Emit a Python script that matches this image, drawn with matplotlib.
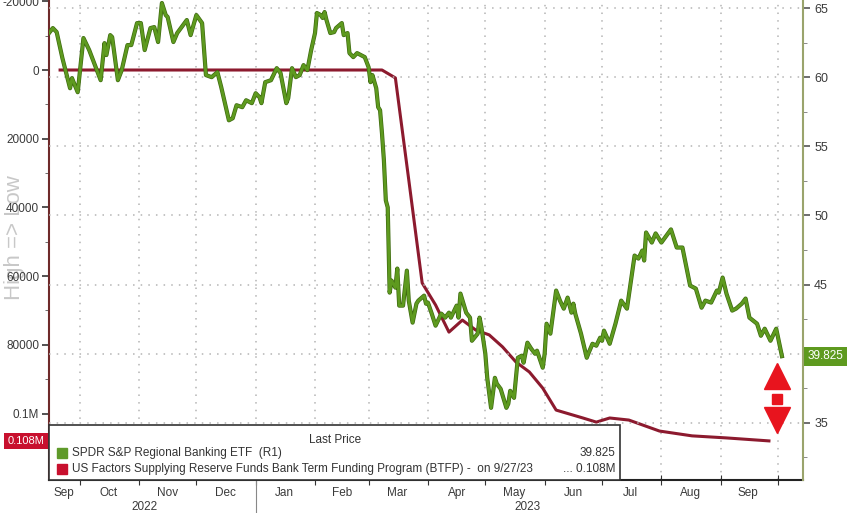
import numpy as np
import pandas as pd
import matplotlib
matplotlib.use('Agg')
import matplotlib.pyplot as plt
import matplotlib.dates as mdates
import matplotlib.ticker as mticker
import matplotlib.transforms as mtransforms
import matplotlib.patheffects as pe
from matplotlib.patches import Rectangle

plt.rcParams['font.family'] = ['Liberation Sans', 'DejaVu Sans']

# SPDR S&P Regional Banking ETF (KRE)
kre_dates = [
    '2022-09-15', '2022-09-17', '2022-09-19', '2022-09-22', '2022-09-26', '2022-09-27', '2022-09-30',
    '2022-10-03', '2022-10-06', '2022-10-10', '2022-10-12', '2022-10-14', '2022-10-15', '2022-10-17',
    '2022-10-18', '2022-10-21', '2022-10-23', '2022-10-26', '2022-10-28', '2022-10-31', '2022-11-02',
    '2022-11-04', '2022-11-07', '2022-11-09', '2022-11-11', '2022-11-13', '2022-11-15', '2022-11-16',
    '2022-11-19', '2022-11-21', '2022-11-26', '2022-11-28', '2022-12-01', '2022-12-04', '2022-12-06',
    '2022-12-09', '2022-12-12', '2022-12-14', '2022-12-18', '2022-12-20', '2022-12-22', '2022-12-25',
    '2022-12-27', '2022-12-30', '2023-01-01', '2023-01-03', '2023-01-04', '2023-01-06', '2023-01-09',
    '2023-01-12', '2023-01-14', '2023-01-17', '2023-01-18', '2023-01-20', '2023-01-22', '2023-01-24',
    '2023-01-26', '2023-01-28', '2023-01-30', '2023-02-01', '2023-02-02', '2023-02-04', '2023-02-05',
    '2023-02-06', '2023-02-07', '2023-02-09', '2023-02-11', '2023-02-12', '2023-02-15', '2023-02-16',
    '2023-02-18', '2023-02-19', '2023-02-21', '2023-02-23', '2023-02-27', '2023-03-01', '2023-03-02',
    '2023-03-03', '2023-03-05', '2023-03-06', '2023-03-07', '2023-03-08', '2023-03-09', '2023-03-10',
    '2023-03-11', '2023-03-12', '2023-03-13', '2023-03-15', '2023-03-16', '2023-03-17', '2023-03-19',
    '2023-03-21', '2023-03-22', '2023-03-24', '2023-03-26', '2023-03-27', '2023-03-30', '2023-03-31',
    '2023-04-01', '2023-04-03', '2023-04-05', '2023-04-08', '2023-04-10', '2023-04-12', '2023-04-13',
    '2023-04-16', '2023-04-17', '2023-04-18', '2023-04-21', '2023-04-23', '2023-04-24', '2023-04-27',
    '2023-04-28', '2023-04-29', '2023-05-01', '2023-05-02', '2023-05-04', '2023-05-06', '2023-05-07',
    '2023-05-09', '2023-05-12', '2023-05-13', '2023-05-14', '2023-05-16', '2023-05-18', '2023-05-20',
    '2023-05-21', '2023-05-23', '2023-05-25', '2023-05-27', '2023-05-28', '2023-05-31', '2023-06-01',
    '2023-06-02', '2023-06-04', '2023-06-07', '2023-06-09', '2023-06-11', '2023-06-13', '2023-06-15',
    '2023-06-16', '2023-06-17', '2023-06-20', '2023-06-23', '2023-06-24', '2023-06-26', '2023-06-28',
    '2023-06-30', '2023-07-01', '2023-07-02', '2023-07-05', '2023-07-08', '2023-07-11', '2023-07-14',
    '2023-07-18', '2023-07-20', '2023-07-22', '2023-07-23', '2023-07-24', '2023-07-27', '2023-07-29',
    '2023-08-01', '2023-08-06', '2023-08-09', '2023-08-12', '2023-08-16', '2023-08-19', '2023-08-22',
    '2023-08-24', '2023-08-27', '2023-08-30', '2023-08-31', '2023-09-02', '2023-09-04', '2023-09-07',
    '2023-09-09', '2023-09-12', '2023-09-14', '2023-09-16', '2023-09-20', '2023-09-22', '2023-09-24',
    '2023-09-27', '2023-09-30', '2023-10-03',
]
kre_price = [
    63.19, 63.55, 63.26, 61.38, 59.20, 59.93, 58.91,
    62.83, 61.96, 60.51, 59.78, 62.46, 61.60, 63.04,
    62.90, 59.78, 60.51, 62.32, 62.32, 63.91, 63.91,
    61.96, 63.55, 63.62, 62.54, 65.36, 64.49, 64.35,
    62.54, 63.19, 64.13, 63.04, 64.49, 63.91, 60.15,
    60.00, 60.36, 59.28, 56.88, 57.03, 57.97, 57.83,
    58.33, 58.12, 58.84, 58.55, 58.12, 59.64, 59.78,
    60.65, 60.29, 58.12, 58.48, 60.65, 60.00, 60.15,
    60.87, 60.51, 61.96, 63.19, 64.64, 64.49, 64.28,
    64.71, 64.13, 63.19, 63.26, 63.55, 63.91, 63.04,
    63.19, 61.74, 61.45, 61.74, 61.45, 60.72, 59.64,
    60.15, 59.20, 57.83, 57.61, 55.94, 53.99, 51.09,
    50.58, 44.42, 45.29, 44.78, 46.16, 43.48, 43.48,
    46.01, 43.84, 42.25, 43.62, 43.84, 44.20, 43.62,
    43.70, 42.90, 42.03, 42.90, 42.61, 42.97, 42.61,
    43.48, 42.61, 44.35, 42.97, 42.61, 40.94, 41.45,
    42.61, 41.88, 40.00, 38.26, 36.09, 38.26, 37.83,
    37.46, 36.09, 36.38, 37.32, 36.81, 39.71, 39.86,
    39.35, 40.80, 40.36, 40.00, 40.22, 38.99, 40.00,
    42.17, 41.45, 44.57, 43.84, 43.26, 44.06, 42.97,
    43.62, 42.90, 41.45, 39.71, 40.07, 40.72, 40.58,
    41.16, 40.94, 41.67, 40.72, 42.17, 43.84, 43.26,
    47.10, 46.88, 47.46, 46.74, 48.77, 48.04, 48.70,
    48.04, 48.99, 47.68, 47.68, 44.93, 44.71, 43.33,
    43.84, 43.70, 44.57, 44.42, 45.51, 44.35, 43.12,
    43.26, 43.62, 43.99, 42.61, 42.17, 41.30, 41.81,
    40.94, 41.81, 39.825,
]

# BTFP usage, USD millions (left axis, inverted)
btfp_dates = [
    '2022-09-20', '2023-03-08', '2023-03-15', '2023-03-22', '2023-03-29', '2023-04-05',
    '2023-04-12', '2023-04-19', '2023-04-26', '2023-05-03', '2023-05-10', '2023-05-17',
    '2023-05-24', '2023-05-31', '2023-06-07', '2023-06-21', '2023-06-28', '2023-07-05',
    '2023-07-15', '2023-07-22', '2023-07-31', '2023-08-17', '2023-09-04', '2023-09-27',
]
btfp_value = [
    0, 0, 2300, 32000, 62000, 68400,
    76300, 72800, 75700, 77100, 80600, 85000,
    87900, 92600, 99000, 101300, 102500, 101300,
    101900, 103300, 105100, 106500, 107100, 108000,
]

month_names = ['Sep', 'Oct', 'Nov', 'Dec', 'Jan', 'Feb', 'Mar', 'Apr', 'May', 'Jun', 'Jul', 'Aug', 'Sep']
month_pos = ['2022-09-23', '2022-10-16', '2022-11-16', '2022-12-16', '2023-01-16', '2023-02-15',
             '2023-03-16', '2023-04-16', '2023-05-16', '2023-06-16', '2023-07-16', '2023-08-16',
             '2023-09-15']
year_names = ['2022', '2023']
year_pos = ['2022-11-04', '2023-05-23']

kre_last = 39.825
btfp_last = 108000

green = '#5e9a1f'
maroon = '#8c1a2e'
tick_col = '#3a3a3a'
grid_col = '#b4b4b4'

fig = plt.figure(figsize=(8.48, 5.13), dpi=100)
ax = fig.add_axes([49 / 848, 1 - 480 / 513, 754 / 848, 480 / 513])
ax2 = ax.twinx()

kd = pd.to_datetime(kre_dates)
bd = pd.to_datetime(btfp_dates)

ax.plot(bd, btfp_value, color=maroon, lw=2.2, zorder=3, solid_capstyle='butt')
ax2.plot(kd, kre_price, color=green, lw=2.0, zorder=3,
         path_effects=[pe.Stroke(linewidth=3.0, foreground='#3e6a10'), pe.Normal()])

ax.set_xlim(pd.Timestamp('2022-09-15'), pd.Timestamp('2023-10-14'))
ax.set_ylim(119350, -20380)
ax2.set_ylim(30.87, 65.58)

# left axis
ax.yaxis.set_major_locator(mticker.MultipleLocator(20000))
ax.yaxis.set_minor_locator(mticker.MultipleLocator(10000))
ax.yaxis.set_major_formatter(mticker.FuncFormatter(
    lambda v, p: '0.1M' if abs(v - 100000) < 1 else f'{int(v)}'))
ax.tick_params(axis='y', which='major', length=5, width=1.2, color='#333333',
               labelsize=8.5, labelcolor=tick_col, pad=2)
ax.tick_params(axis='y', which='minor', length=3, color='#555555')

# right axis (the 40 label sits under the last-price tag)
ax2.yaxis.set_major_locator(mticker.MultipleLocator(5))
ax2.yaxis.set_minor_locator(mticker.MultipleLocator(2.5))
ax2.yaxis.set_major_formatter(mticker.FuncFormatter(
    lambda v, p: '' if abs(v - 40) < 0.01 else f'{v:g}'))
ax2.tick_params(axis='y', which='major', length=5, width=1.2, color='#555555',
                labelsize=9, labelcolor=tick_col, pad=3)
ax2.tick_params(axis='y', which='minor', length=3, color='#777777')

# x axis
ax.xaxis.set_major_locator(mdates.MonthLocator())
ax.xaxis.set_major_formatter(mticker.NullFormatter())
ax.set_xticks(pd.to_datetime(month_pos), minor=True)
ax.set_xticklabels(month_names, minor=True)
ax.tick_params(axis='x', which='major', direction='inout', length=7, color='#333333')
ax.tick_params(axis='x', which='minor', length=0, labelsize=8.5, labelcolor=tick_col, pad=5)

ax.grid(axis='x', which='major', color=grid_col, lw=1.1, ls=(0, (1, 4)))
ax2.grid(axis='y', which='major', color=grid_col, lw=1.1, ls=(0, (1, 4)))

for a in (ax, ax2):
    a.spines['top'].set_visible(False)
ax.spines['left'].set_color('#6e2a2a')
ax.spines['left'].set_linewidth(1.5)
ax2.spines['right'].set_color('#9aa46c')
ax2.spines['right'].set_linewidth(1.5)
ax2.spines['left'].set_visible(False)
ax.spines['right'].set_visible(False)
ax.spines['bottom'].set_color('#222222')
ax.spines['bottom'].set_linewidth(1.5)
ax2.spines['bottom'].set_visible(False)

# year labels and separator
xb = mtransforms.blended_transform_factory(ax.transData, ax.transAxes)
for name, pos in zip(year_names, year_pos):
    ax.text(pd.Timestamp(pos), -0.056, name, transform=xb, ha='center', va='center',
            fontsize=8.5, color=tick_col)
jan1 = mdates.date2num(pd.Timestamp('2023-01-01'))
ax.plot([jan1, jan1], [0, -0.07], transform=xb, color='#888888', lw=0.8, clip_on=False)

# axis title
fig.text(15 / 848, 1 - 238 / 513, 'High => Low', rotation=90, ha='center', va='center',
         fontsize=16, color='#c8c8c8', zorder=-1)

# last value tags
yb1 = mtransforms.blended_transform_factory(ax.transAxes, ax.transData)
ax.text(-0.006, btfp_last, '0.108M', transform=yb1, ha='right', va='center', fontsize=8,
        color='white', zorder=30,
        bbox=dict(boxstyle='square,pad=0.3', fc='#c8102e', ec='none'))
yb2 = mtransforms.blended_transform_factory(ax2.transAxes, ax2.transData)
ax2.text(1.006, kre_last, '39.825', transform=yb2, ha='left', va='center', fontsize=8.5,
         color='white', zorder=30,
         bbox=dict(boxstyle='square,pad=0.3', fc='#5e9a1f', ec='none'))

# red up/down arrows
ax2.plot([0.9655], [0.217], marker='^', ms=19, color='#e8141e', transform=ax2.transAxes,
         clip_on=False, zorder=15)
ax2.plot([0.9655], [0.169], marker='s', ms=7, color='#e8141e', transform=ax2.transAxes,
         clip_on=False, zorder=15)
ax2.plot([0.9655], [0.125], marker='v', ms=19, color='#e8141e', transform=ax2.transAxes,
         clip_on=False, zorder=15)

# legend box
lx1 = (620 - 49) / 754
ax2.add_patch(Rectangle((0, 0), lx1, (480 - 425) / 480, transform=ax2.transAxes,
                        fc='white', ec='#333333', lw=1.2, zorder=20, clip_on=False))
ax2.text((335 - 49) / 754, (480 - 440) / 480, 'Last Price', transform=ax2.transAxes,
         ha='center', va='center', fontsize=8.5, color='#333333', zorder=21)
rows = [
    ('SPDR S&P Regional Banking ETF  (R1)', '39.825', '#5f9a2a', 453),
    ('US Factors Supplying Reserve Funds Bank Term Funding Program (BTFP) -  on 9/27/23',
     '... 0.108M', '#c8102e', 469),
]
for label, val, col, ypix in rows:
    yy = (480 - ypix) / 480
    ax2.plot([(62 - 49) / 754], [yy], marker='s', ms=7, color=col, transform=ax2.transAxes,
             clip_on=False, zorder=21)
    ax2.text((72 - 49) / 754, yy, label, transform=ax2.transAxes, ha='left', va='center',
             fontsize=8.5, color='#333333', zorder=21)
    ax2.text((615 - 49) / 754, yy, val, transform=ax2.transAxes, ha='right', va='center',
             fontsize=8.5, color='#333333', zorder=21)

fig.savefig('out.png', dpi=100)
